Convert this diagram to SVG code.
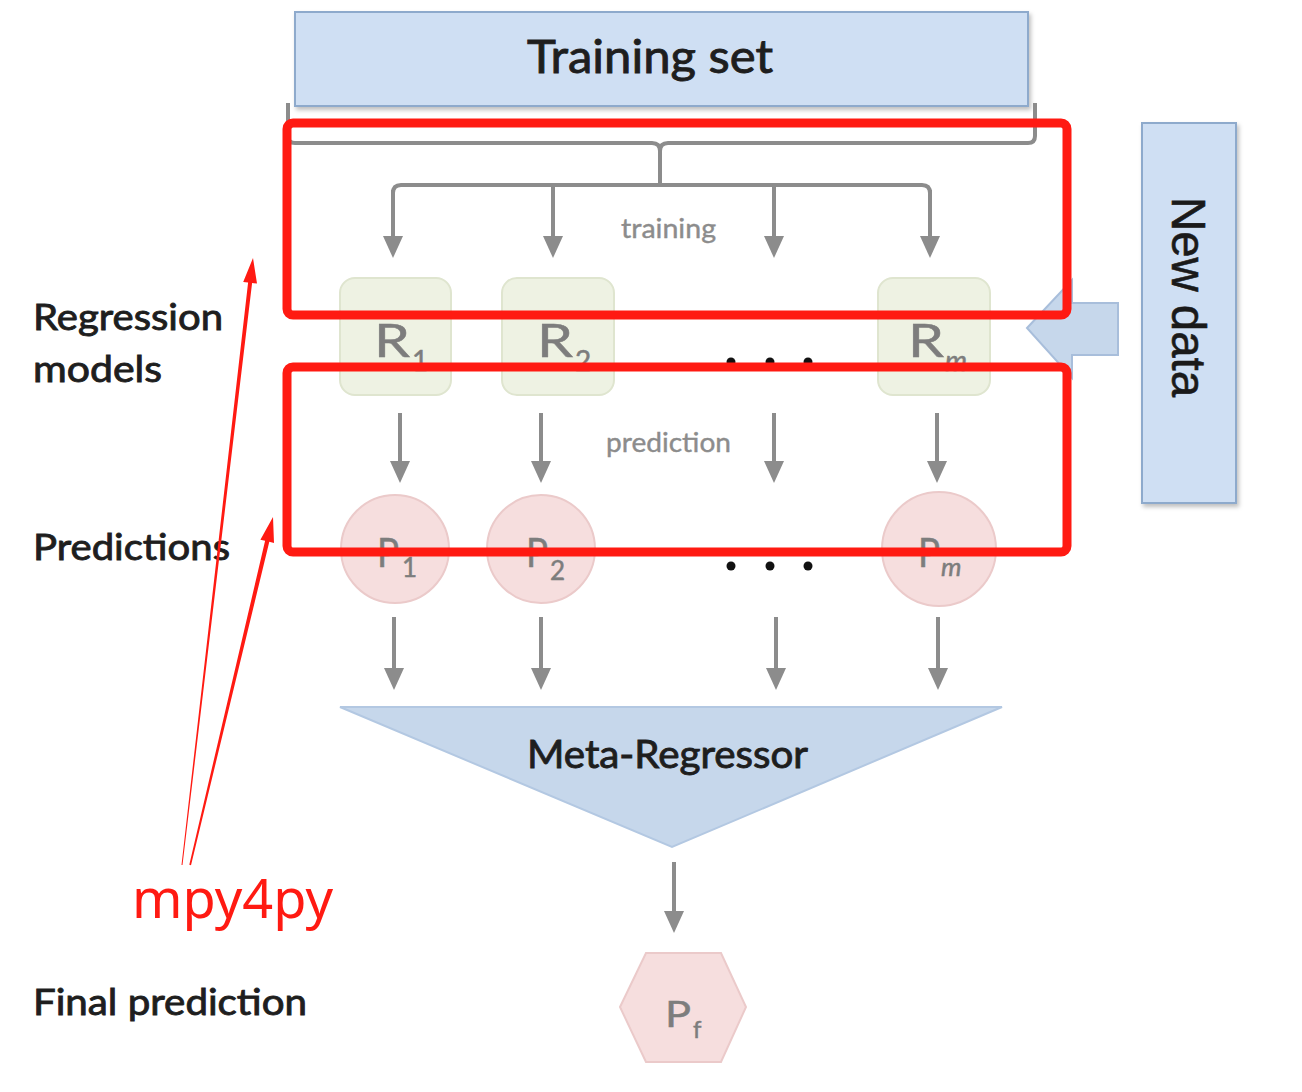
<svg xmlns="http://www.w3.org/2000/svg" width="1302" height="1092" viewBox="0 0 1302 1092">
<style>
  .lbl{font-family:Lato,"Open Sans","Liberation Sans",sans-serif;fill:#1e1e1e;stroke:#1e1e1e;stroke-width:0.9}
  .small{font-family:Lato,"Open Sans","Liberation Sans",sans-serif;fill:#8c8c8c;stroke:#8c8c8c;stroke-width:0.4;font-size:27px}
  .sym{font-family:Lato,"Open Sans","Liberation Sans",sans-serif;fill:#7d7d7d;stroke:#7d7d7d;stroke-width:0.5}
  .blue{fill:#cfdff3;stroke:#8eaacc;stroke-width:2}
  .rbox{fill:#eef2e3;stroke:#dfe5cf;stroke-width:2}
  .pnode{fill:#f6dede;stroke:#ebcaca;stroke-width:2}
  .conn{fill:none;stroke:#8c8c8c;stroke-width:4}
  .red{fill:none;stroke:#ff1a12;stroke-width:9}
  .redfill{fill:#ff1a12}
</style>
<defs>
  <marker id="ah" markerUnits="userSpaceOnUse" markerWidth="22" markerHeight="20" refX="10" refY="10" orient="auto" viewBox="0 0 22 20">
    <path d="M0,0 L22,10 L0,20 z" fill="#8c8c8c"/>
  </marker>
  <filter id="sh" x="-10%" y="-10%" width="120%" height="130%">
    <feDropShadow dx="2" dy="3" stdDeviation="2" flood-color="#000" flood-opacity="0.25"/>
  </filter>
</defs>
<rect width="1302" height="1092" fill="#ffffff"/>

<g id="training-set">
  <rect class="blue" x="295" y="12" width="733" height="94" filter="url(#sh)"/>
  <text class="lbl" x="527" y="73" font-size="46" textLength="246" lengthAdjust="spacingAndGlyphs">Training set</text>
</g>

<g id="new-data">
  <rect class="blue" x="1142" y="123" width="94" height="380" filter="url(#sh)"/>
  <text transform="translate(1172,297) rotate(90)" text-anchor="middle" font-family="'Liberation Sans',Arial,sans-serif" font-size="48" fill="#1a1a1a" stroke="#1a1a1a" stroke-width="0.6" textLength="200" lengthAdjust="spacingAndGlyphs">New data</text>
</g>

<g id="new-data-arrow">
  <polygon points="1027,328 1072,280 1072,303 1118,303 1118,355 1072,355 1072,378" fill="#c6d7eb" stroke="#a8bedb" stroke-width="2"/>
</g>

<g id="labels">
  <text class="lbl" x="33" y="330" font-size="37" textLength="190" lengthAdjust="spacingAndGlyphs">Regression</text>
  <text class="lbl" x="33" y="382" font-size="37" textLength="129" lengthAdjust="spacingAndGlyphs">models</text>
  <text class="lbl" x="33" y="560" font-size="37" textLength="197" lengthAdjust="spacingAndGlyphs">Predictions</text>
  <text class="lbl" x="33" y="1015" font-size="37" textLength="274" lengthAdjust="spacingAndGlyphs">Final prediction</text>
  <text class="small" x="621" y="238" textLength="95" lengthAdjust="spacingAndGlyphs">training</text>
  <text class="small" x="606" y="452" textLength="125" lengthAdjust="spacingAndGlyphs">prediction</text>
</g>

<g id="R1">
  <rect class="rbox" x="340" y="278" width="111" height="117" rx="15"/>
  <text class="sym" x="374" y="357" font-size="47" textLength="36" lengthAdjust="spacingAndGlyphs">R</text>
  <text class="sym" x="412" y="371" font-size="28">1</text>
</g>
<g id="R2">
  <rect class="rbox" x="502" y="278" width="112" height="117" rx="15"/>
  <text class="sym" x="537" y="357" font-size="47" textLength="36" lengthAdjust="spacingAndGlyphs">R</text>
  <text class="sym" x="575" y="371" font-size="28">2</text>
</g>
<g id="Rm">
  <rect class="rbox" x="878" y="278" width="112" height="117" rx="15"/>
  <text class="sym" x="908" y="357" font-size="47" textLength="36" lengthAdjust="spacingAndGlyphs">R</text>
  <text class="sym" x="945" y="371" font-size="28" font-style="italic">m</text>
</g>
<g id="R-dots" fill="#111">
  <circle cx="731" cy="362" r="4.5"/>
  <circle cx="770" cy="362" r="4.5"/>
  <circle cx="808" cy="362" r="4.5"/>
</g>

<g id="P1">
  <circle class="pnode" cx="395" cy="549" r="54"/>
  <text class="sym" x="377" y="567" font-size="40" textLength="22" lengthAdjust="spacingAndGlyphs">P</text>
  <text class="sym" x="402" y="577" font-size="26">1</text>
</g>
<g id="P2">
  <circle class="pnode" cx="541" cy="549" r="54"/>
  <text class="sym" x="526" y="567" font-size="40" textLength="22" lengthAdjust="spacingAndGlyphs">P</text>
  <text class="sym" x="550" y="580" font-size="26">2</text>
</g>
<g id="Pm">
  <circle class="pnode" cx="939" cy="549" r="57"/>
  <text class="sym" x="918" y="567" font-size="40" textLength="22" lengthAdjust="spacingAndGlyphs">P</text>
  <text class="sym" x="941" y="576" font-size="26" font-style="italic">m</text>
</g>
<g id="P-dots" fill="#111">
  <circle cx="731" cy="566" r="4.5"/>
  <circle cx="770" cy="566" r="4.5"/>
  <circle cx="808" cy="566" r="4.5"/>
</g>

<g id="meta-regressor">
  <polygon points="340,707 1002,707 672,847" fill="#c6d7eb" stroke="#b3c8e2" stroke-width="2"/>
  <text class="lbl" x="527" y="768" font-size="38" textLength="281" lengthAdjust="spacingAndGlyphs">Meta-Regressor</text>
</g>

<g id="Pf">
  <polygon class="pnode" points="620,1007 646,953 721,953 746,1007 721,1062 646,1062"/>
  <text class="sym" x="665" y="1027" font-size="37" textLength="26" lengthAdjust="spacingAndGlyphs">P</text>
  <text class="sym" x="693" y="1038" font-size="24">f</text>
</g>

<g id="connectors">
  <path class="conn" d="M288,103 L288,136 Q288,143 295,143 L652,143 Q660,143 660,151 Q660,143 668,143 L1028,143 Q1035,143 1035,136 L1035,103"/>
  <path class="conn" d="M660,151 L660,185"/>
  <path class="conn" d="M393,193 Q393,185 401,185 L922,185 Q930,185 930,193"/>
  <path class="conn" d="M393,190 L393,246" marker-end="url(#ah)"/>
  <path class="conn" d="M553,185 L553,246" marker-end="url(#ah)"/>
  <path class="conn" d="M774,185 L774,246" marker-end="url(#ah)"/>
  <path class="conn" d="M930,190 L930,246" marker-end="url(#ah)"/>

  <path class="conn" d="M400,413 L400,471" marker-end="url(#ah)"/>
  <path class="conn" d="M541,413 L541,471" marker-end="url(#ah)"/>
  <path class="conn" d="M774,413 L774,471" marker-end="url(#ah)"/>
  <path class="conn" d="M937,413 L937,471" marker-end="url(#ah)"/>

  <path class="conn" d="M394,617 L394,678" marker-end="url(#ah)"/>
  <path class="conn" d="M541,617 L541,678" marker-end="url(#ah)"/>
  <path class="conn" d="M776,617 L776,678" marker-end="url(#ah)"/>
  <path class="conn" d="M938,617 L938,678" marker-end="url(#ah)"/>

  <path class="conn" d="M674,862 L674,921" marker-end="url(#ah)"/>
</g>

<g id="annotation">
  <rect class="red" x="287" y="123" width="780" height="192" rx="6"/>
  <rect class="red" x="287" y="367" width="780" height="185" rx="6"/>
  <polygon class="redfill" points="182.5,865 252.1,283 257,283.6 253,258 243.2,282 248.1,282.6 181.5,865"/>
  <polygon class="redfill" points="191,865.2 269.3,541.8 274,542.9 273,517 260.4,539.7 265.1,540.8 189.3,864.8"/>
  <text x="132" y="918" font-family="'Noto Sans','Open Sans',sans-serif" font-size="54" fill="#ff1a12" textLength="201" lengthAdjust="spacingAndGlyphs">mpy4py</text>
</g>
</svg>
